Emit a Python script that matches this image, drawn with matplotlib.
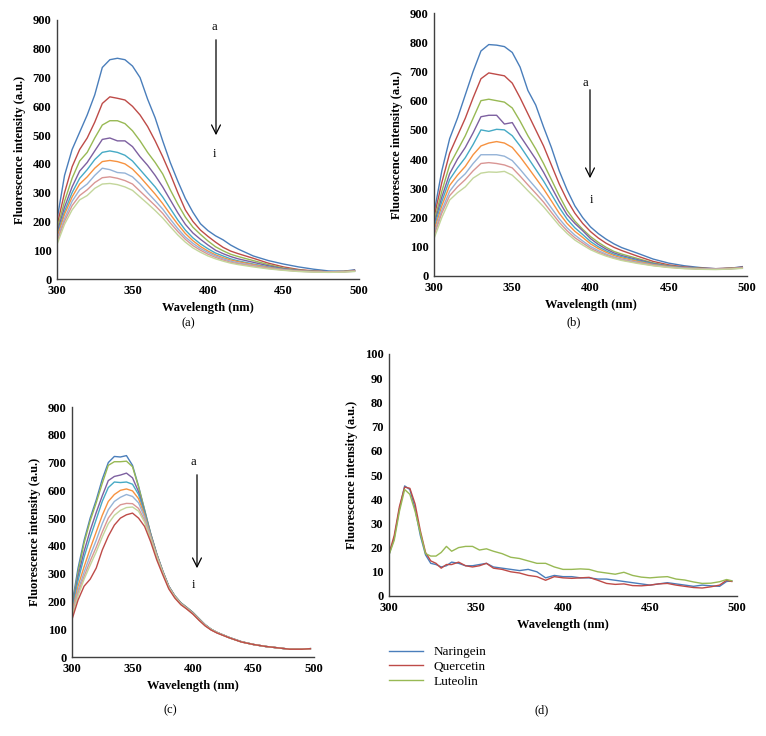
import matplotlib
matplotlib.use('Agg')
import matplotlib.pyplot as plt

plt.rcParams['font.family'] = ['Liberation Serif', 'DejaVu Serif']

W, H = 766, 736

# excel-style series colours a..i
colors = ['#4A7EBB', '#BE4B48', '#98B954', '#7D60A0', '#46AAC5',
          '#F69240', '#95B3D7', '#D99694', '#C3D69B']

# wavelength grid shared by panels a, b, c
wl = [300, 305, 310, 315, 320, 325, 330, 335, 340, 345, 350, 355, 360, 365, 370,
      375, 380, 385, 390, 395, 400, 405, 410, 415, 420, 430, 440, 450, 460, 470,
      480, 490, 497]

#-------------------------------------------------------------------------------
# panel (a)
a_a = [205, 360, 450, 510, 570, 640, 735, 762, 767, 762, 740, 700, 625, 560, 480, 405, 340, 280, 232, 192, 168, 150, 136, 118, 104, 80, 64, 52, 42, 34, 28, 27, 32]
a_b = [185, 300, 390, 450, 490, 545, 610, 633, 628, 622, 600, 570, 530, 480, 425, 365, 300, 240, 200, 170, 148, 128, 110, 97, 88, 72, 55, 42, 33, 28, 25, 26, 30]
a_c = [170, 270, 350, 410, 440, 490, 535, 550, 550, 540, 515, 480, 440, 405, 365, 310, 260, 215, 180, 155, 132, 112, 98, 86, 78, 64, 50, 38, 31, 27, 25, 26, 29]
a_d = [160, 250, 320, 375, 405, 445, 485, 490, 480, 480, 460, 425, 395, 360, 320, 275, 230, 190, 160, 138, 118, 100, 88, 78, 70, 58, 46, 36, 30, 27, 25, 26, 29]
a_e = [150, 235, 300, 350, 380, 415, 440, 445, 440, 430, 410, 380, 350, 320, 285, 245, 205, 170, 143, 122, 105, 90, 80, 70, 63, 52, 42, 34, 29, 26, 25, 26, 28]
a_f = [145, 225, 285, 330, 355, 385, 408, 412, 408, 400, 382, 355, 325, 295, 262, 225, 190, 158, 133, 113, 97, 84, 74, 66, 60, 50, 40, 33, 28, 26, 25, 26, 28]
a_g = [135, 210, 270, 310, 330, 360, 385, 380, 370, 368, 355, 330, 300, 272, 243, 208, 175, 146, 124, 106, 92, 80, 70, 62, 56, 47, 38, 32, 27, 25, 24, 25, 27]
a_h = [130, 200, 255, 290, 310, 335, 352, 355, 350, 342, 330, 305, 280, 255, 228, 195, 165, 138, 116, 100, 86, 75, 66, 58, 53, 45, 37, 31, 27, 25, 24, 25, 27]
a_i = [120, 190, 240, 275, 290, 315, 330, 332, 328, 320, 308, 285, 262, 238, 212, 182, 153, 128, 108, 93, 80, 70, 62, 55, 50, 42, 35, 30, 26, 24, 23, 24, 26]

#-------------------------------------------------------------------------------
# panel (b)
b_a = [215, 360, 470, 540, 620, 700, 770, 792, 790, 785, 765, 715, 635, 585, 510, 440, 360, 295, 240, 200, 168, 145, 126, 110, 97, 78, 58, 44, 35, 29, 25, 27, 32]
b_b = [200, 320, 420, 480, 540, 610, 675, 695, 690, 685, 660, 610, 555, 500, 445, 380, 315, 260, 215, 180, 152, 130, 112, 98, 87, 68, 50, 38, 31, 27, 25, 27, 30]
b_c = [185, 290, 380, 430, 480, 540, 600, 605, 600, 595, 575, 530, 480, 435, 385, 330, 275, 225, 188, 160, 135, 115, 98, 84, 75, 60, 45, 35, 29, 26, 24, 26, 29]
b_d = [175, 270, 350, 400, 440, 490, 545, 550, 550, 520, 525, 480, 440, 400, 355, 305, 255, 210, 180, 155, 128, 108, 92, 79, 70, 56, 43, 34, 29, 25, 24, 26, 29]
b_e = [165, 255, 330, 370, 405, 450, 500, 495, 502, 500, 480, 445, 405, 365, 325, 280, 235, 195, 165, 142, 118, 100, 86, 74, 66, 53, 41, 33, 28, 25, 24, 26, 28]
b_f = [155, 240, 310, 345, 375, 415, 445, 455, 460, 455, 440, 408, 372, 335, 298, 257, 215, 180, 153, 132, 110, 94, 81, 70, 62, 50, 39, 32, 27, 25, 24, 26, 28]
b_g = [145, 225, 290, 325, 350, 385, 415, 415, 415, 410, 395, 365, 333, 302, 270, 233, 196, 165, 140, 120, 101, 87, 75, 65, 58, 47, 37, 31, 27, 25, 24, 25, 27]
b_h = [138, 215, 275, 305, 330, 360, 385, 388, 385, 380, 370, 342, 312, 283, 253, 218, 184, 155, 131, 113, 95, 82, 71, 62, 55, 45, 36, 30, 26, 24, 23, 25, 27]
b_i = [128, 200, 260, 285, 305, 335, 352, 356, 355, 358, 345, 320, 292, 265, 237, 205, 173, 146, 123, 106, 90, 78, 68, 60, 53, 43, 35, 29, 25, 23, 22, 24, 26]

#-------------------------------------------------------------------------------
# panel (c)
c_a = [190, 320, 420, 500, 565, 640, 700, 722, 720, 725, 690, 615, 530, 445, 372, 310, 255, 220, 195, 178, 160, 138, 116, 100, 88, 70, 55, 45, 38, 33, 28, 28, 30]
c_b = [180, 305, 410, 490, 555, 625, 690, 703, 703, 705, 685, 612, 528, 444, 371, 309, 254, 220, 195, 178, 160, 138, 116, 100, 88, 70, 55, 45, 38, 33, 28, 28, 30]
c_c = [175, 290, 380, 455, 520, 580, 635, 650, 655, 662, 645, 595, 522, 442, 370, 308, 254, 219, 194, 177, 159, 137, 116, 99, 88, 70, 55, 45, 38, 33, 28, 28, 30]
c_d = [170, 275, 360, 430, 495, 560, 610, 630, 628, 630, 622, 585, 518, 440, 369, 307, 253, 219, 194, 177, 159, 137, 116, 99, 88, 70, 55, 45, 38, 33, 28, 28, 30]
c_e = [160, 255, 325, 390, 450, 510, 560, 585, 600, 605, 598, 570, 510, 436, 367, 306, 252, 218, 193, 176, 158, 136, 115, 99, 88, 70, 55, 45, 38, 33, 28, 28, 30]
c_f = [155, 240, 305, 365, 420, 480, 530, 560, 575, 585, 578, 555, 502, 432, 365, 305, 251, 217, 192, 175, 157, 135, 115, 99, 88, 70, 55, 45, 38, 33, 28, 28, 30]
c_g = [150, 230, 290, 345, 395, 450, 500, 530, 548, 553, 552, 535, 492, 428, 362, 303, 250, 216, 191, 174, 156, 134, 114, 98, 87, 69, 54, 45, 38, 33, 28, 28, 30]
c_h = [145, 220, 280, 330, 378, 432, 480, 510, 528, 538, 540, 525, 485, 424, 360, 302, 249, 215, 190, 173, 155, 133, 113, 98, 87, 69, 54, 45, 38, 33, 28, 28, 30]
c_i = [135, 205, 255, 280, 320, 385, 435, 475, 500, 512, 518, 500, 470, 415, 350, 296, 245, 212, 188, 172, 154, 132, 112, 97, 86, 69, 54, 45, 38, 33, 28, 28, 30]
# order of colours in (c): the red one is the lowest curve
c_colors = ['#4A7EBB', '#98B954', '#7D60A0', '#46AAC5', '#F69240',
            '#95B3D7', '#D99694', '#C3D69B', '#BE4B48']

#-------------------------------------------------------------------------------
# panel (d)
wl_d = [300, 303, 306, 309, 312, 315, 318, 321, 324, 327, 330, 333, 336, 340, 344,
        348, 352, 356, 360, 365, 370, 375, 380, 385, 390, 395, 400, 405, 410, 415,
        420, 425, 430, 435, 440, 445, 450, 455, 460, 465, 470, 475, 480, 485, 490,
        494, 497]
naringein = [17, 24, 36, 45.5, 44, 36, 25, 17, 13.5, 13, 12, 12.5, 14, 13.5, 12.5,
             12.5, 13, 13.5, 12, 11.5, 11, 10.5, 11, 10, 7.5, 8.5, 8, 8, 7.5, 7.5,
             7, 7, 6.5, 6, 5.5, 5, 4.5, 5, 5.5, 5, 4.5, 4, 4.5, 4.2, 4,
             6, 6.2]
quercetin = [17.5, 25, 37, 45, 44.5, 38, 27, 18, 14.5, 13.5, 11.5, 13, 13, 14, 12.5,
             12, 12.5, 13.5, 11.5, 11, 10, 9.5, 8.5, 8, 6.5, 8, 7.5, 7.3, 7.5, 7.7,
             6.5, 5.2, 4.8, 5, 4.3, 4.2, 4.5, 5, 5.2, 4.5, 4, 3.5, 3.3, 3.8, 4.5,
             6.5, 6]
luteolin = [17, 23, 35, 44, 42, 35, 26, 17.5, 16.5, 16.5, 18, 20.5, 18.5, 20, 20.5,
            20.5, 19, 19.5, 18.5, 17.5, 16, 15.5, 14.5, 13.5, 13.5, 12, 11, 11, 11.2, 11,
            10, 9.5, 9, 9.8, 8.5, 7.8, 7.5, 7.8, 8, 7, 6.6, 5.8, 5.2, 5.3, 5.9,
            6.8, 6.3]
d_names = ['Naringein', 'Quercetin', 'Luteolin']
d_colors = ['#4A7EBB', '#BE4B48', '#98B954']


def box(l, t, r, b):
    # pixel box -> figure fraction
    return [l / W, 1 - b / H, (r - l) / W, (b - t) / H]


def style(ax, ymax, ystep):
    ax.set_xlim(300, 500)
    ax.set_ylim(0, ymax)
    ax.set_xticks(range(300, 501, 50))
    ax.set_yticks(range(0, ymax + 1, ystep))
    ax.tick_params(length=0, labelsize=9, pad=4)
    for t in ax.get_xticklabels() + ax.get_yticklabels():
        t.set_fontweight('bold')
    for s in ['top', 'right']:
        ax.spines[s].set_visible(False)
    for s in ['left', 'bottom']:
        ax.spines[s].set_color('#404040')
        ax.spines[s].set_linewidth(1)
    ax.set_xlabel('Wavelength (nm)', fontsize=9, fontweight='bold', labelpad=4)
    ax.set_ylabel('Fluorescence intensity (a.u.)', fontsize=9, fontweight='bold', labelpad=5)


def arrow(fig, x, ytop, ybot, xa, ya, xi, yi):
    fig.text(xa / W, 1 - ya / H, 'a', fontsize=9, ha='center', va='center')
    fig.text(xi / W, 1 - yi / H, 'i', fontsize=9, ha='center', va='center')
    fig.add_artist(matplotlib.patches.FancyArrowPatch(
        (x / W, 1 - ytop / H), (x / W, 1 - ybot / H), transform=fig.transFigure,
        arrowstyle='->', mutation_scale=16, lw=0.9, color='black'))


fig = plt.figure(figsize=(W / 100, H / 100), dpi=100)

ax1 = fig.add_axes(box(57, 20, 359, 279))
for y, c in zip([a_a, a_b, a_c, a_d, a_e, a_f, a_g, a_h, a_i], colors):
    ax1.plot(wl, y, color=c, lw=1)
style(ax1, 900, 100)
arrow(fig, 216, 37, 138, 214, 27, 214, 154)
fig.text(188 / W, 1 - 323 / H, '(a)', fontsize=9, ha='center', va='center')

ax2 = fig.add_axes(box(434, 13, 747, 276))
for y, c in zip([b_a, b_b, b_c, b_d, b_e, b_f, b_g, b_h, b_i], colors):
    ax2.plot(wl, y, color=c, lw=1)
style(ax2, 900, 100)
arrow(fig, 590, 87, 181, 585, 83, 591, 200)
fig.text(574 / W, 1 - 322 / H, '(b)', fontsize=9, ha='center', va='center')

ax3 = fig.add_axes(box(72, 407, 314, 657))
for y, c in zip([c_a, c_b, c_c, c_d, c_e, c_f, c_g, c_h, c_i], c_colors):
    ax3.plot(wl, y, color=c, lw=1)
style(ax3, 900, 100)
arrow(fig, 197, 472, 571, 193, 462, 193, 585)
fig.text(170 / W, 1 - 710 / H, '(c)', fontsize=9, ha='center', va='center')

ax4 = fig.add_axes(box(389, 354, 737, 596))
for y, c, n in zip([naringein, quercetin, luteolin], d_colors, d_names):
    ax4.plot(wl_d, y, color=c, lw=1, label=n)
style(ax4, 100, 10)
ax4.legend(loc='upper left', bbox_to_anchor=(389 / W, 1 - 646 / H),
           bbox_transform=fig.transFigure, frameon=False, fontsize=9.5,
           handlelength=2.6, handletextpad=0.8, labelspacing=0.2,
           borderpad=0, borderaxespad=0)
fig.text(542 / W, 1 - 710 / H, '(d)', fontsize=9, ha='center', va='center')

fig.savefig('out.png', dpi=100)
